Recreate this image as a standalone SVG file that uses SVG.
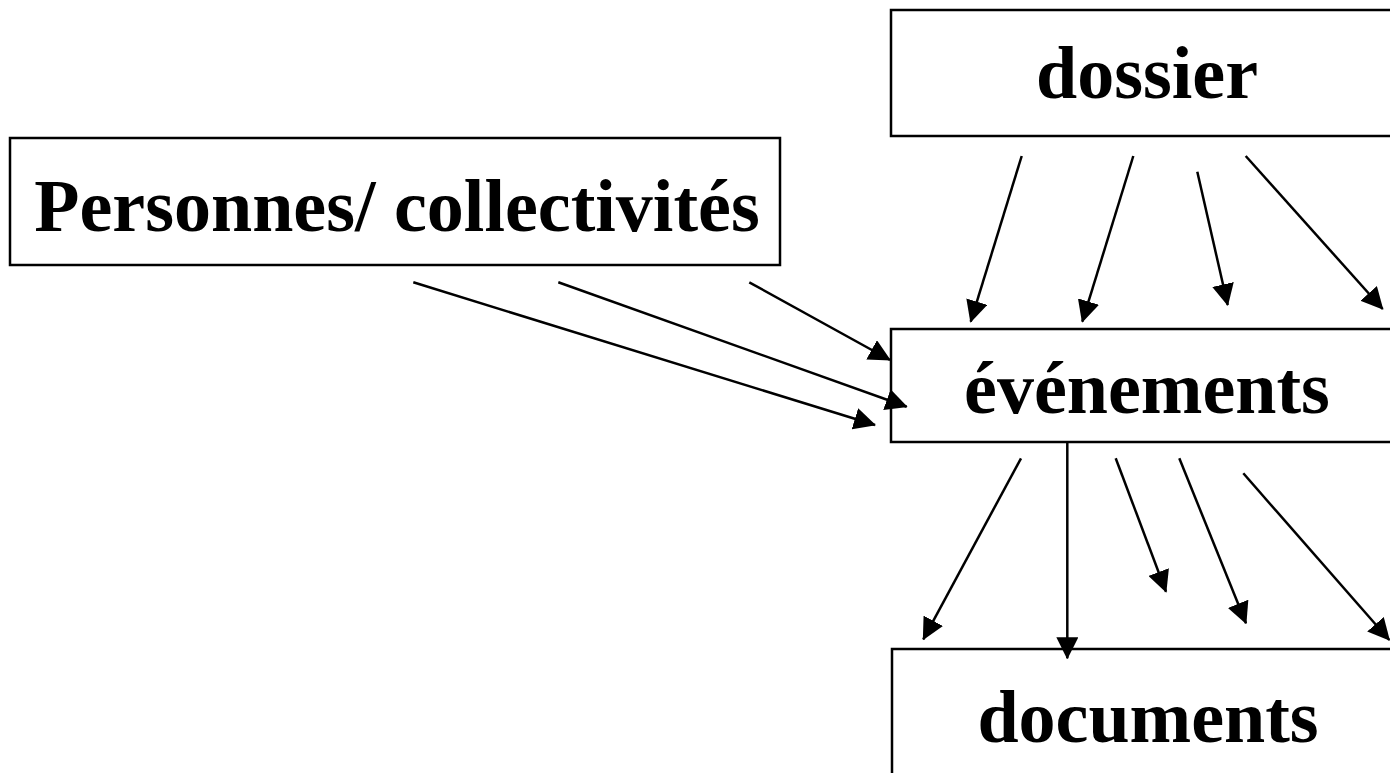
<svg xmlns="http://www.w3.org/2000/svg" width="1390" height="773" viewBox="0 0 1390 773">
  <style>
    .box { fill: #ffffff; stroke: #000000; stroke-width: 2.5; }
    .lbl { font-family: "Liberation Serif", "Times New Roman", serif; font-weight: bold; font-size: 74px; fill: #000000; text-anchor: middle; }
    .edge { stroke: #000000; stroke-width: 2.5; fill: none; marker-end: url(#arrow); }
  </style>
  <defs>
    <marker id="arrow" viewBox="0 0 22 22" markerWidth="22" markerHeight="22" refX="21" refY="11" orient="auto" markerUnits="userSpaceOnUse">
      <path d="M0,0 L22,11 L0,22 Z" fill="#000000"/>
    </marker>
  </defs>
  <rect x="0" y="0" width="1390" height="773" fill="#ffffff"/>

  <g id="node-dossier">
    <rect class="box" x="891" y="10" width="512" height="126"/>
    <text class="lbl" x="1147" y="98">dossier</text>
  </g>
  <g id="node-personnes">
    <rect class="box" x="10" y="138" width="770" height="127"/>
    <text class="lbl" x="397" y="231">Personnes/ collectivités</text>
  </g>
  <g id="node-evenements">
    <rect class="box" x="891" y="329" width="512" height="113"/>
    <text class="lbl" x="1147" y="413">événements</text>
  </g>
  <g id="node-documents">
    <rect class="box" x="892" y="649" width="512" height="140"/>
    <text class="lbl" x="1148" y="742">documents</text>
  </g>

  <g id="connectors">
    <line class="edge" x1="1021.7" y1="156" x2="970.7" y2="321.7"/>
    <line class="edge" x1="1133.3" y1="156" x2="1082.3" y2="321.7"/>
    <line class="edge" x1="1197.3" y1="171.7" x2="1227.7" y2="305"/>
    <line class="edge" x1="1245.7" y1="156" x2="1382.7" y2="309"/>

    <line class="edge" x1="413.3" y1="282.3" x2="875" y2="425"/>
    <line class="edge" x1="558.3" y1="282.3" x2="906.7" y2="406.7"/>
    <line class="edge" x1="749.3" y1="282.3" x2="890" y2="360"/>

    <line class="edge" x1="1021" y1="458.3" x2="923.3" y2="639.3"/>
    <line class="edge" x1="1067.3" y1="442" x2="1067.3" y2="658.3"/>
    <line class="edge" x1="1115.7" y1="458.3" x2="1166" y2="591.7"/>
    <line class="edge" x1="1179.3" y1="458.3" x2="1246" y2="623.3"/>
    <line class="edge" x1="1243.3" y1="473.3" x2="1389.3" y2="640"/>
  </g>
</svg>
